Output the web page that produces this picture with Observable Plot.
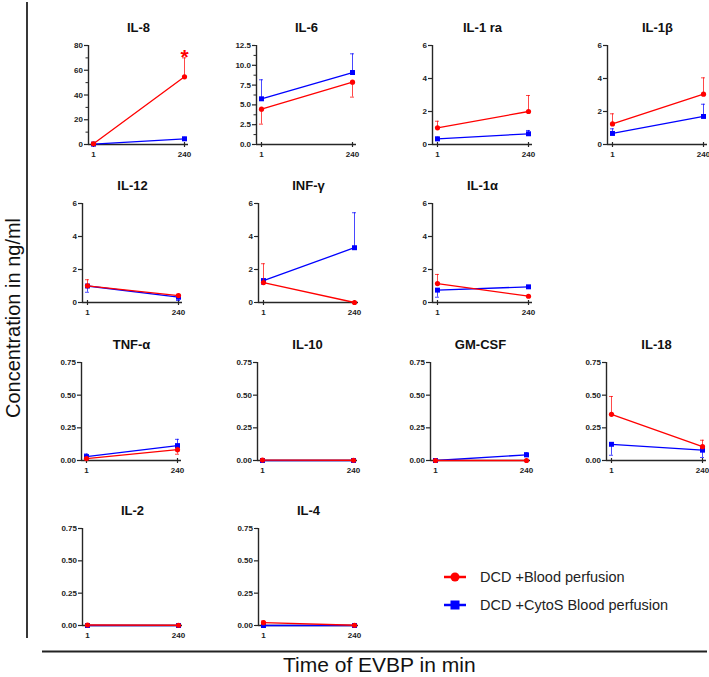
<!DOCTYPE html>
<html>
<head>
<meta charset="utf-8">
<script src="https://cdn.jsdelivr.net/npm/d3@7"></script>
<script src="https://cdn.jsdelivr.net/npm/@observablehq/plot@0.6"></script>
<style>
  html, body { margin: 0; padding: 0; background: #fff; }
  #root { position: relative; width: 709px; height: 677px; background: #fff; overflow: hidden;
          font-family: Arial, "Liberation Sans", sans-serif; }
  #root .panel { position: absolute; }
  #root svg { overflow: visible; max-width: none !important; }
  #overlay { position: absolute; left: 0; top: 0; }
</style>
</head>
<body>
<div id="root"></div>
<script>
// ---------------- data ----------------
const times = [1, 240];
const cytokines = ["IL-8", "IL-6", "IL-1 ra", "IL-1β", "IL-12", "INF-γ", "IL-1α",
                   "TNF-α", "IL-10", "GM-CSF", "IL-18", "IL-2", "IL-4"];
const seriesNames = ["DCD +Blood perfusion", "DCD +CytoS Blood perfusion"];
// DCD + Blood perfusion: mean at [1, 240] min
const bloodMean = [[0.6, 54.7], [4.46, 7.87], [1.01, 2.0], [1.25, 3.05], [1.01, 0.42], [1.21, 0.0], [1.15, 0.38],
                   [0.015, 0.083], [0.003, 0.002], [0.0, 0.0], [0.353, 0.106], [0.004, 0.002], [0.022, 0.002]];
// end of the drawn error bar
const bloodErrEnd = [[1.8, 70], [2.57, 5.98], [1.41, 2.97], [1.86, 4.04], [1.38, 0.5], [2.35, 0.0], [1.70, 0.38],
                     [0.02, 0.048], [0.003, 0.002], [0.0, 0.0], [0.49, 0.155], [0.004, 0.002], [0.035, 0.002]];
// DCD + CytoS Blood perfusion
const cytosMean = [[0.3, 4.6], [5.77, 9.09], [0.34, 0.65], [0.67, 1.70], [1.0, 0.32], [1.33, 3.32], [0.75, 0.95],
                   [0.03, 0.114], [0.0, 0.0], [0.0, 0.043], [0.124, 0.079], [0.0, 0.0], [0.0, 0.0]];
const cytosErrEnd = [[0.3, 5.8], [8.17, 11.45], [0.45, 0.85], [0.95, 2.44], [0.62, 0.12], [1.1, 5.44], [0.32, 1.02],
                     [0.05, 0.162], [0.0, 0.0], [0.0, 0.06], [0.04, 0.023], [0.0, 0.0], [0.0, 0.0]];
const yMax = [80, 12.5, 6, 6, 6, 6, 6, 0.75, 0.75, 0.75, 0.75, 0.75, 0.75];
const yTickLabels = [
  ["0", "20", "40", "60", "80"],
  ["0.0", "2.5", "5.0", "7.5", "10.0", "12.5"],
  ["0", "2", "4", "6"], ["0", "2", "4", "6"], ["0", "2", "4", "6"], ["0", "2", "4", "6"], ["0", "2", "4", "6"],
  ["0.00", "0.25", "0.50", "0.75"], ["0.00", "0.25", "0.50", "0.75"], ["0.00", "0.25", "0.50", "0.75"],
  ["0.00", "0.25", "0.50", "0.75"], ["0.00", "0.25", "0.50", "0.75"], ["0.00", "0.25", "0.50", "0.75"]
];
const yMinorTicks = [[10, 30, 50, 70], [1.25, 3.75, 6.25, 8.75, 11.25], [], [], [], [], [], [], [], [], [], [], []];
const significance = [{ panel: "IL-8", time: 240, label: "*" }];
const xTitle = "Time of EVBP in min";
const yTitle = "Concentration in ng/ml";

// ---------------- layout (pixels) ----------------
// [y-axis x, plot top, plot bottom]
const layout = [[88, 45, 144], [256, 45, 144], [432, 45, 144], [607, 45, 144],
                [82, 203, 302], [258, 203, 302], [432, 203, 302],
                [81, 362, 460], [257, 362, 460], [430, 362, 460], [606, 362, 460],
                [82, 528, 625], [258, 528, 625]];
const RED = "#ff0000", BLUE = "#0000ff", AXIS = "#262626";
const FONT = 'Arial, "Liberation Sans", sans-serif';

const root = document.getElementById("root");

function panel(i) {
  const [ax, top, bottom] = layout[i];
  const mL = 40, mR = 10, mT = 30, mB = 20, pw = 100, ph = bottom - top;
  const ymax = yMax[i];
  const xd = [-12.1, 250.5];
  const pxX = pw / (xd[1] - xd[0]);
  const pxY = ph / ymax;
  const mk = (mean, err, s) => times.map((t, j) => ({ s, t, v: mean[i][j], e: err[i][j] }));
  const blood = mk(bloodMean, bloodErrEnd, "blood");
  const cytos = mk(cytosMean, cytosErrEnd, "cytos");
  const tickVals = yTickLabels[i].map(Number);
  const tLen = 4 / pxX, mLen = 2.5 / pxX, cap = 2 / pxX;
  const seriesMarks = (rows, color, symbol, r) => [
    Plot.ruleX(rows.filter(d => d.e !== d.v), { x: "t", y1: "v", y2: "e", stroke: color, strokeWidth: 0.9, strokeOpacity: 0.8 }),
    Plot.ruleY(rows.filter(d => d.e !== d.v), { y: "e", x1: d => d.t - cap, x2: d => d.t + cap, stroke: color, strokeWidth: 0.9, strokeOpacity: 0.8 }),
    Plot.line(rows, { x: "t", y: "v", stroke: color, strokeWidth: 1.3 }),
    Plot.dot(rows, { x: "t", y: "v", symbol, r, fill: color, stroke: "none" })
  ];
  const sig = significance.filter(d => d.panel === cytokines[i]).map(d => {
    const j = times.indexOf(d.time);
    return { t: d.time, y: bloodErrEnd[i][j], label: d.label };
  });
  const W = mL + pw + mR, H = mT + ph + mB;
  const chart = Plot.plot({
    width: W, height: H,
    marginLeft: mL, marginRight: mR, marginTop: mT, marginBottom: mB,
    x: { domain: xd, axis: null },
    y: { domain: [0, ymax], axis: null },
    style: { background: "transparent", overflow: "visible", fontFamily: FONT, maxWidth: "none" },
    marks: [
      Plot.ruleX([xd[0]], { y1: 0, y2: ymax, stroke: AXIS, strokeWidth: 1.4 }),
      Plot.ruleY([0], { x1: xd[0], x2: xd[1], stroke: AXIS, strokeWidth: 1.4 }),
      Plot.ruleY(tickVals, { x1: xd[0] - tLen, x2: xd[0], stroke: AXIS, strokeWidth: 1.2 }),
      Plot.ruleY(yMinorTicks[i], { x1: xd[0] - mLen, x2: xd[0], stroke: AXIS, strokeWidth: 1 }),
      Plot.text(yTickLabels[i], { x: xd[0] - tLen, y: d => +d, text: d => d, textAnchor: "end", dx: -1.5,
        lineAnchor: "middle", fontSize: 8, fontWeight: "bold", fill: "#222" }),
      Plot.ruleX(times, { x: d => d, y1: -3 / pxY, y2: 2 / pxY, stroke: AXIS, strokeWidth: 1.2 }),
      Plot.text(times, { x: d => d, y: 0, dy: 10, text: d => String(d), lineAnchor: "middle",
        fontSize: 8, fontWeight: "bold", fill: "#222" }),
      Plot.text([cytokines[i]], { frameAnchor: "top", dy: -18, lineAnchor: "middle", text: d => d,
        fontSize: 13, fontWeight: "bold", fill: "#111" }),
      ...seriesMarks(cytos, BLUE, "square", 2.8),
      ...seriesMarks(blood, RED, "circle", 2.6),
      Plot.text(sig, { x: "t", y: "y", text: "label", dy: -1, lineAnchor: "middle", fontSize: 21,
        fontWeight: "bold", fill: RED })
    ]
  });
  chart.setAttribute("width", W);
  chart.setAttribute("height", H);
  chart.style.width = W + "px";
  chart.style.height = H + "px";
  const wrap = document.createElement("div");
  wrap.className = "panel";
  wrap.style.left = (ax - mL) + "px";
  wrap.style.top = (top - mT) + "px";
  wrap.style.width = W + "px";
  wrap.style.height = H + "px";
  wrap.appendChild(chart);
  root.appendChild(wrap);
}

cytokines.forEach((_, i) => panel(i));

// ---------------- frame, axis titles, legend ----------------
const ns = "http://www.w3.org/2000/svg";
const ov = document.createElementNS(ns, "svg");
ov.setAttribute("id", "overlay");
ov.setAttribute("width", 709);
ov.setAttribute("height", 677);
const add = (tag, attrs, text) => {
  const el = document.createElementNS(ns, tag);
  for (const k in attrs) el.setAttribute(k, attrs[k]);
  if (text != null) el.textContent = text;
  ov.appendChild(el);
  return el;
};
add("line", { x1: 27, y1: 2, x2: 27, y2: 638, stroke: "#222", "stroke-width": 1.8 });
add("line", { x1: 42, y1: 651.5, x2: 707, y2: 651.5, stroke: "#222", "stroke-width": 1.8 });
add("text", { x: 283, y: 672, "font-size": 21, "font-family": FONT, fill: "#111" }, xTitle);
add("text", { x: 0, y: 0, transform: "translate(20,318) rotate(-90)", "text-anchor": "middle",
  "font-size": 20, "font-family": FONT, fill: "#111" }, yTitle);
// legend
const legColors = [RED, BLUE];
const legY = [577, 605];
seriesNames.forEach((name, k) => {
  const y = legY[k];
  add("line", { x1: 444, y1: y, x2: 466, y2: y, stroke: legColors[k], "stroke-width": 2.5 });
  if (k === 0) add("circle", { cx: 455, cy: y, r: 4.5, fill: legColors[k] });
  else add("rect", { x: 450.5, y: y - 4.5, width: 9, height: 9, fill: legColors[k] });
  add("text", { x: 480, y: y + 5, "font-size": 14.5, "font-family": FONT, fill: "#222" }, name);
});
root.appendChild(ov);
</script>
</body>
</html>
